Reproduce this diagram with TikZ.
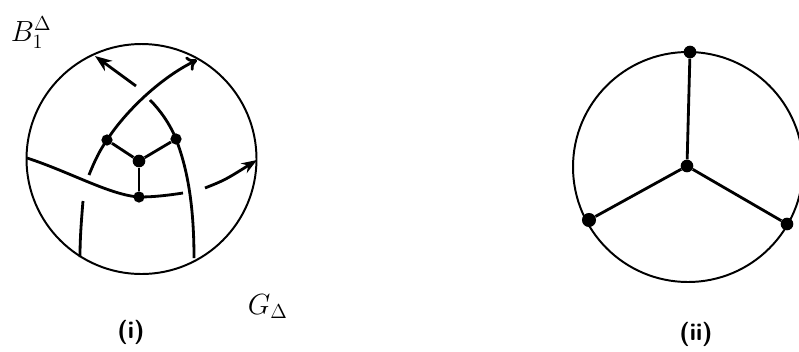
\documentclass[tikz,border=0pt]{standalone}
\usetikzlibrary{arrows.meta}
\begin{document}
\begin{tikzpicture}[x=0.025cm, y=-0.025cm,
    vtx/.style={circle, fill, inner sep=0pt, minimum size=8pt},
    rim/.style={line width=1.4pt},
    strand/.style={line width=2pt},
    tag/.style={anchor=base, font=\LARGE\sffamily\bfseries}]
  \useasboundingbox (0,0) rectangle (799,351);
  % (i): the ball with its strands
  \draw[rim] (141.5,159) circle[radius=115];
  \node[vtx] (p) at (107,140) {};
  \node[vtx] (q) at (176,139) {};
  \node[vtx, minimum size=9pt] (c) at (139,161) {};
  \node[vtx] (s) at (139,197) {};
  \coordinate (h0) at (27,158);
  \coordinate (h1) at (183,193);
  \coordinate (h2) at (205,188);
  \coordinate (h3) at (257,160);
  \coordinate (a0) at (89,175);
  \coordinate (a1) at (197,60);
  \coordinate (b0) at (194,258);
  \coordinate (b1) at (150,100);
  \coordinate (b2) at (136,86);
  \coordinate (b3) at (95,56);
  \coordinate (d0) at (83,201);
  \coordinate (d1) at (80,257);
  \draw[strand] (h0) .. controls (70,172) and (110,195) .. (s.center) .. controls (155,197) and (170,195) .. (h1);
  \draw[strand, -{Stealth[length=11pt,width=8pt]}] (h2) .. controls (225,180) .. (h3);
  \draw[strand, -{To[length=7pt,width=11pt]}] (a0) .. controls (95,160) and (100,150) .. (p.center) .. controls (125,112) and (160,78) .. (a1);
  \draw[strand] (b0) .. controls (194,200) and (186,165) .. (q.center) .. controls (170,124) and (160,110) .. (b1);
  \draw[strand, -{Stealth[length=12pt,width=9pt]}] (b2) -- (b3);
  \draw[strand] (d0) .. controls (81,225) and (80,240) .. (d1);
  \draw[strand] (p) -- (c) -- (q);
  \draw[strand] (c) -- (s);
  \node[anchor=base west, font=\huge] (bl) at (6,41) {$B_1^\Delta$};
  \node[anchor=base west, font=\huge] (gl) at (243,314) {$G_\Delta$};
  \node[tag] (il) at (131,338) {(i)};
  % (ii): the graph
  \draw[rim] (688,167) circle[radius=115];
  \node[vtx, minimum size=9pt] (t) at (690,52) {};
  \node[vtx, minimum size=10pt] (l) at (589,220) {};
  \node[vtx, minimum size=9pt] (r) at (787,224) {};
  \node[vtx, minimum size=9pt] (m) at (687,166) {};
  \draw[strand] (m) -- (t);
  \draw[strand] (m) -- (l);
  \draw[strand] (m) -- (r);
  \node[tag] (iil) at (696,340) {(ii)};
\end{tikzpicture}
\end{document}
